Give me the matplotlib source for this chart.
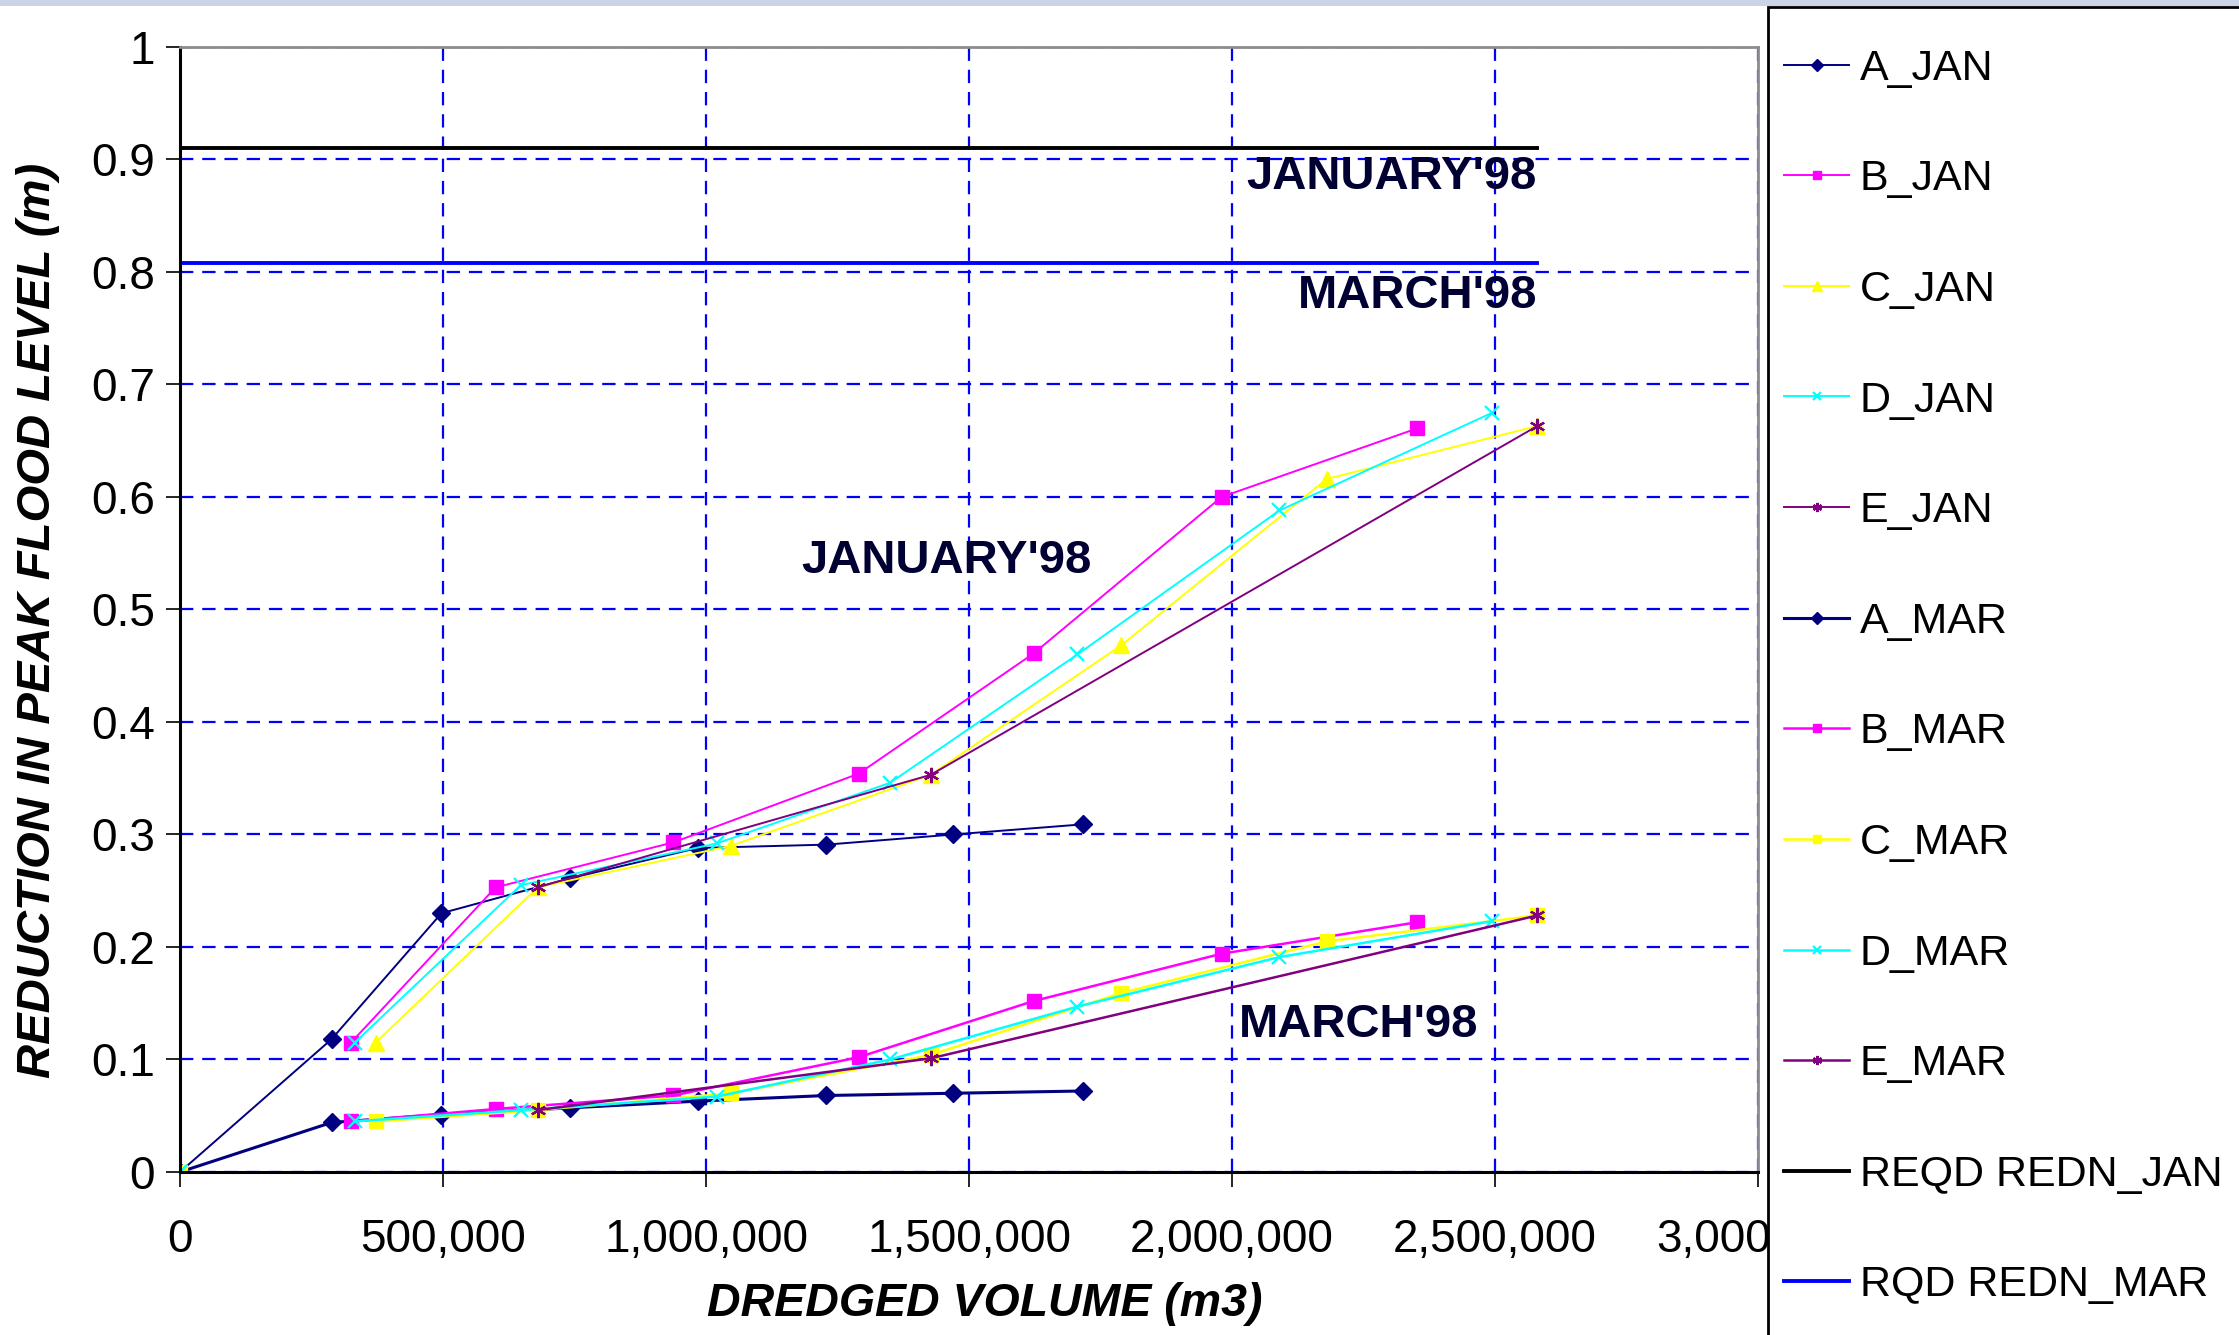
import numpy as np
import matplotlib
matplotlib.use("Agg")
import matplotlib.pyplot as plt
from matplotlib.patches import Rectangle
from matplotlib.ticker import FuncFormatter, MultipleLocator

# dredged volume (m3) for each scheme
vol_a = [0, 288000, 497000, 741000, 984000, 1229000, 1470000, 1716000]
vol_b = [325000, 600000, 938000, 1290000, 1623000, 1980000, 2352000]
vol_c = [372000, 680000, 1048000, 1427000, 1789000, 2180000, 2580000]
vol_d = [332000, 648000, 1020000, 1350000, 1706000, 2090000, 2495000]
vol_e = [680000, 1427000, 2580000]

# reduction in peak flood level (m), January'98 event
a_jan = [0, 0.118, 0.230, 0.261, 0.288, 0.291, 0.300, 0.309]
b_jan = [0.115, 0.253, 0.293, 0.354, 0.461, 0.600, 0.661]
c_jan = [0.115, 0.253, 0.290, 0.353, 0.468, 0.616, 0.663]
d_jan = [0.115, 0.255, 0.292, 0.346, 0.460, 0.588, 0.675]
e_jan = [0.253, 0.353, 0.663]

# reduction in peak flood level (m), March'98 event
a_mar = [0, 0.044, 0.051, 0.057, 0.063, 0.068, 0.070, 0.072]
b_mar = [0.045, 0.056, 0.068, 0.102, 0.152, 0.194, 0.222]
c_mar = [0.045, 0.055, 0.070, 0.104, 0.159, 0.205, 0.228]
d_mar = [0.045, 0.055, 0.067, 0.100, 0.147, 0.191, 0.223]
e_mar = [0.055, 0.101, 0.228]

# C and D March runs also have a zero point, not joined to the rest
origin_x = [0, np.nan]
origin_y = [0, np.nan]

# required reductions
reqd_x = [0, 2580000]
reqd_jan = [0.91, 0.91]
reqd_mar = [0.808, 0.808]

NAVY = "#000080"
MAGENTA = "#ff00ff"
YELLOW = "#ffff00"
CYAN = "#00ffff"
PURPLE = "#800080"
TXT = "#000033"

narrow = ["Liberation Sans Narrow", "Liberation Sans", "DejaVu Sans"]
plt.rcParams["font.family"] = ["Liberation Sans", "DejaVu Sans"]

fig = plt.figure(figsize=(22.39, 13.35), dpi=100)
fig.patch.set_facecolor("white")
ax = fig.add_axes([0.0804, 0.1221, 0.7048, 0.8427])

star = (6, 2, 0)
lines = []
lines += ax.plot(vol_a, a_jan, color=NAVY, lw=1.4, marker="D", ms=9.5, label="A_JAN")
lines += ax.plot(vol_b, b_jan, color=MAGENTA, lw=1.4, marker="s", ms=10.5, label="B_JAN")
lines += ax.plot(vol_c, c_jan, color=YELLOW, lw=1.4, marker="^", ms=12, label="C_JAN")
lines += ax.plot(vol_d, d_jan, color=CYAN, lw=1.4, marker="x", ms=10, mew=1.6, label="D_JAN")
lines += ax.plot(vol_e, e_jan, color=PURPLE, lw=1.4, marker=star, ms=11, mew=1.6, label="E_JAN")
lines += ax.plot(vol_a, a_mar, color=NAVY, lw=2.2, marker="D", ms=9.5, label="A_MAR")
lines += ax.plot(vol_b, b_mar, color=MAGENTA, lw=1.8, marker="s", ms=10.5, label="B_MAR")
lines += ax.plot(origin_x + vol_c, origin_y + c_mar, color=YELLOW, lw=1.8, marker="s", ms=10.5, label="C_MAR")
lines += ax.plot(origin_x + vol_d, origin_y + d_mar, color=CYAN, lw=1.8, marker="x", ms=10, mew=1.6, label="D_MAR")
lines += ax.plot(vol_e, e_mar, color=PURPLE, lw=1.8, marker=star, ms=11, mew=1.6, label="E_MAR")
lines += ax.plot(reqd_x, reqd_jan, color="black", lw=2.8, label="REQD REDN_JAN")
lines += ax.plot(reqd_x, reqd_mar, color="#0000ff", lw=2.8, label="RQD REDN_MAR")

ax.set_xlim(0, 3000000)
ax.set_ylim(0, 1)
ax.xaxis.set_major_locator(MultipleLocator(500000))
ax.yaxis.set_major_locator(MultipleLocator(0.1))
ax.xaxis.set_major_formatter(FuncFormatter(lambda v, p: f"{v:,.0f}"))
ax.yaxis.set_major_formatter(FuncFormatter(lambda v, p: f"{v:g}"))
ax.grid(True, color="#0000ff", ls=(0, (6, 4)), lw=1.6)
ax.set_axisbelow(True)

ax.tick_params(axis="y", direction="out", length=10, width=1.2, pad=8, labelsize=33)
ax.tick_params(axis="x", direction="out", length=11, width=1.2, pad=22, labelsize=33)
for lab in ax.get_xticklabels():
    lab.set_family(narrow)

for side in ("left", "bottom"):
    ax.spines[side].set_color("black")
    ax.spines[side].set_linewidth(2.2)
for side in ("top", "right"):
    ax.spines[side].set_color("#8c8c8c")
    ax.spines[side].set_linewidth(2)

ax.set_ylabel("REDUCTION IN PEAK FLOOD LEVEL (m)", fontsize=34, fontweight="bold",
              fontstyle="italic", family=narrow)
ax.yaxis.set_label_coords(-0.076, 0.49)
ax.set_xlabel("DREDGED VOLUME (m3)", fontsize=33.5, fontweight="bold",
              fontstyle="italic", family=narrow, va="top")
ax.xaxis.set_label_coords(0.51, -0.098)

# event labels
lab_kw = dict(fontsize=34, fontweight="bold", color=TXT, family=narrow)
ax.text(2580000, 0.884, "JANUARY'98", ha="right", va="center", **lab_kw)
ax.text(2580000, 0.779, "MARCH'98", ha="right", va="center", **lab_kw)
ax.text(1457000, 0.543, "JANUARY'98", ha="center", va="center", **lab_kw)
ax.text(2240000, 0.131, "MARCH'98", ha="center", va="center", **lab_kw)

# band along the top edge
fig.add_artist(Rectangle((0, 1 - 6 / 1335), 1, 6 / 1335, transform=fig.transFigure,
                         facecolor="#ccd3e8", edgecolor="none", zorder=0))

# legend panel running off the right and bottom edges
fig.add_artist(Rectangle((1768 / 2239, -0.05), 0.3, 1.05 - 7 / 1335, transform=fig.transFigure,
                         facecolor="white", edgecolor="black", lw=2, zorder=5))
leg = fig.legend(lines, [l.get_label() for l in lines], loc="upper left",
                 bbox_to_anchor=(0.797, 0.9635), frameon=False, fontsize=31,
                 labelspacing=1.64, handlelength=1.5, handletextpad=0.25,
                 borderpad=0, borderaxespad=0, markerscale=0.6)
leg.set_zorder(6)

fig.savefig("out.png", dpi=100)
